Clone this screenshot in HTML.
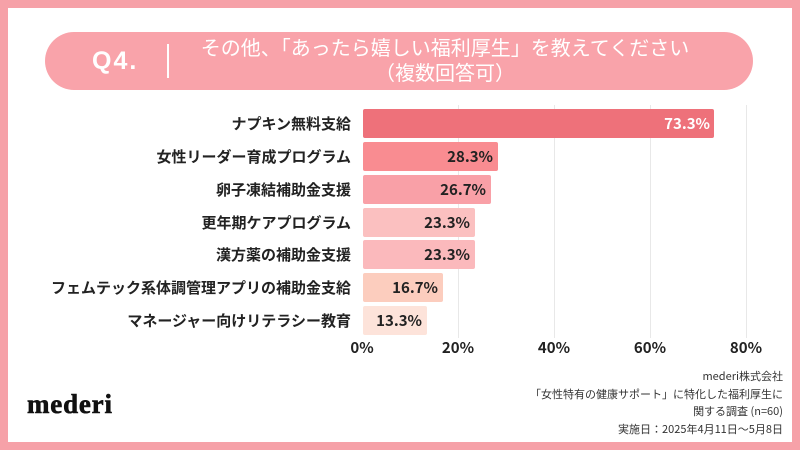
<!DOCTYPE html>
<html><head><meta charset="utf-8"><style>
*{margin:0;padding:0;box-sizing:border-box}
body{width:800px;height:450px;background:#F6A1A8;position:relative;overflow:hidden;font-family:"Liberation Sans","Noto Sans CJK JP",sans-serif}
.inner{position:absolute;left:8px;top:8px;width:784px;height:434px;background:#fff}
.pill{position:absolute;left:45px;top:32px;width:708px;height:58px;border-radius:29px;background:#F9A3AA}
.q{position:absolute;left:92px;top:44px;font:bold 25px "Liberation Sans",sans-serif;color:#fff;letter-spacing:2px;line-height:34px}
.div{position:absolute;left:167px;top:44px;width:2px;height:34px;background:#fff}
.title{position:absolute;left:185px;width:520px;top:34px;text-align:center;color:#fff;font-size:20px;line-height:25px;font-family:"Noto Sans CJK JP",sans-serif}
.grid{position:absolute;top:105px;width:1px;height:233px;background:#E8E8E8}
.bar{position:absolute;left:363px;height:29px;border-radius:2px}
.val{position:absolute;font:bold 15px "Noto Sans CJK JP",sans-serif;color:#222;text-align:right;line-height:29px}
.lab{position:absolute;right:449px;font:bold 15px "Noto Sans CJK JP",sans-serif;color:#222;line-height:29px;white-space:nowrap;text-align:right}
.tick{position:absolute;top:338px;width:60px;text-align:center;font:bold 15px "Noto Sans CJK JP",sans-serif;color:#222;line-height:20px}
.logo{position:absolute;left:27px;top:389px;font:bold 27px "Liberation Serif",serif;letter-spacing:0.8px;color:#111;line-height:30px;-webkit-text-stroke:0.6px #111}
.foot{position:absolute;right:17px;top:368px;text-align:right;font-size:11px;line-height:17.5px;color:#333;font-family:"Noto Sans CJK JP",sans-serif}
</style></head><body>
<div class="inner"></div>
<div class="pill"></div>
<div class="q">Q4.</div>
<div class="div"></div>
<div class="title">その他、「あったら嬉しい福利厚生」を教えてください<br>（複数回答可）</div>

<div class="grid" style="left:458px"></div>
<div class="grid" style="left:554px"></div>
<div class="grid" style="left:650px"></div>
<div class="grid" style="left:746px"></div>

<div class="bar" style="top:109px;width:351px;background:#EE717A"></div>
<div class="bar" style="top:142px;width:135px;background:#F98C91"></div>
<div class="bar" style="top:175px;width:128px;background:#F9A0A7"></div>
<div class="bar" style="top:208px;width:112px;background:#FBC0C0"></div>
<div class="bar" style="top:240px;width:112px;background:#FBB9BC"></div>
<div class="bar" style="top:273px;width:80px;background:#FCCDBE"></div>
<div class="bar" style="top:306px;width:64px;background:#FDE3DA"></div>

<div class="val" style="top:109px;left:610px;width:100px;color:#fff">73.3%</div>
<div class="val" style="top:142px;left:393px;width:100px">28.3%</div>
<div class="val" style="top:175px;left:386px;width:100px">26.7%</div>
<div class="val" style="top:208px;left:370px;width:100px">23.3%</div>
<div class="val" style="top:240px;left:370px;width:100px">23.3%</div>
<div class="val" style="top:273px;left:338px;width:100px">16.7%</div>
<div class="val" style="top:306px;left:322px;width:100px">13.3%</div>

<div class="lab" style="top:109px">ナプキン無料支給</div>
<div class="lab" style="top:142px">女性リーダー育成プログラム</div>
<div class="lab" style="top:175px">卵子凍結補助金支援</div>
<div class="lab" style="top:208px">更年期ケアプログラム</div>
<div class="lab" style="top:240px">漢方薬の補助金支援</div>
<div class="lab" style="top:273px">フェムテック系体調管理アプリの補助金支給</div>
<div class="lab" style="top:306px">マネージャー向けリテラシー教育</div>

<div class="tick" style="left:332px">0%</div>
<div class="tick" style="left:428px">20%</div>
<div class="tick" style="left:524px">40%</div>
<div class="tick" style="left:620px">60%</div>
<div class="tick" style="left:716px">80%</div>

<div class="logo">mederi</div>
<div class="foot">mederi株式会社<br>「女性特有の健康サポート」に特化した福利厚生に<br>関する調査 (n=60)<br>実施日：2025年4月11日～5月8日</div>
</body></html>
